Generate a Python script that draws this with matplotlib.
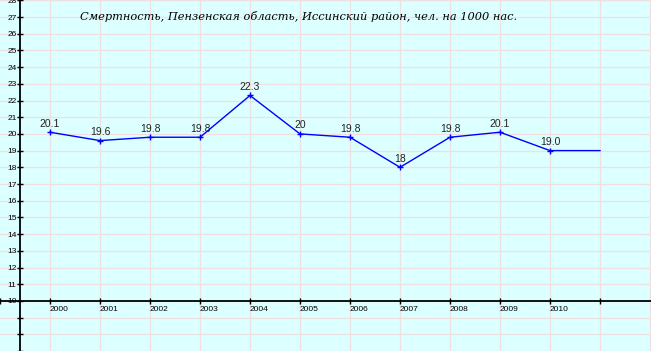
import matplotlib
matplotlib.use("Agg")
import matplotlib.pyplot as plt

years = [2000, 2001, 2002, 2003, 2004, 2005, 2006, 2007, 2008, 2009, 2010, 2011]
values = [20.1, 19.6, 19.8, 19.8, 22.3, 20.0, 19.8, 18.0, 19.8, 20.1, 19.0, 19.0]
point_labels = ["20.1", "19.6", "19.8", "19.8", "22.3", "20", "19.8", "18", "19.8", "20.1", "19.0", ""]
x_tick_years = list(range(1999, 2012))
x_tick_labels = [""] + [str(y) for y in range(2000, 2011)] + [""]
y_ticks = list(range(7, 29))
y_tick_labels = ["" if v < 10 else str(v) for v in y_ticks]
title = "Смертность, Пензенская область, Иссинский район, чел. на 1000 нас."

fig = plt.figure(figsize=(6.51, 3.51), dpi=100)
fig.patch.set_facecolor("#dcffff")
ax = fig.add_axes([0, 0, 1, 1])
ax.set_facecolor("#dcffff")

ax.set_xlim(1999, 1999 + 651 / 50)
ax.set_ylim(7, 7 + 351 / 16.7)

# grid
for yv in y_ticks + [28]:
    ax.axhline(yv, color="#eedfe0", lw=0.9, zorder=0)
for xv in range(2000, 2013):
    ax.axvline(xv, color="#eedfe0", lw=0.9, zorder=0)

for s in ["top", "right"]:
    ax.spines[s].set_visible(False)
ax.spines["left"].set_position(("data", 1999.4))
ax.spines["bottom"].set_position(("data", 10))
ax.spines["left"].set_linewidth(1.3)
ax.spines["bottom"].set_linewidth(1.3)

ax.set_xticks(x_tick_years)
ax.set_xticklabels(x_tick_labels, ha="left", fontsize=6, family="Liberation Sans")
ax.set_yticks(y_ticks)
ax.set_yticklabels(y_tick_labels, fontsize=6, family="Liberation Sans")
ax.tick_params(axis="x", direction="inout", length=5, width=1, pad=1)
ax.tick_params(axis="y", direction="inout", length=5, width=1, pad=0)

ax.plot(years, values, color="#0000ff", lw=1, zorder=3)
ax.plot(years[:-1], values[:-1], ls="none", marker="+", ms=4.5, mew=1, color="#0000ff", zorder=4)
for x, v, t in zip(years, values, point_labels):
    if t:
        ax.annotate(t, (x, v), xytext=(0, 2.5), textcoords="offset points",
                    ha="center", va="bottom", fontsize=7.5, color="#222222",
                    family="Liberation Sans", zorder=5)

fig.text(80 / 651, 1 - 17 / 351, title, fontsize=8.2, family="DejaVu Serif",
         style="italic", ha="left", va="center", color="black")

fig.savefig("out.png", dpi=100, facecolor=fig.get_facecolor())
